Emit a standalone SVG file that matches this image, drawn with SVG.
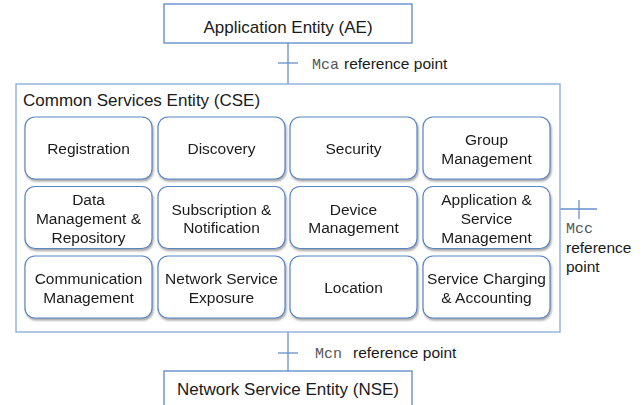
<svg xmlns="http://www.w3.org/2000/svg" width="644" height="405" viewBox="0 0 644 405">
<style>
text{font-family:"Liberation Sans",Arial,sans-serif;fill:#1a1a1a}
.big{font-size:17px}
.t{font-size:15.5px;text-anchor:middle}
.lbl{font-size:15.5px}
.mono{font-family:"Liberation Mono","Courier New",monospace;font-size:15px;fill:#555}
.ent{fill:#fff;stroke:#5b87c7;stroke-width:1.3}
.cse{fill:#fff;stroke:#97b4dd;stroke-width:1.5}
.fn{fill:#fff;stroke:#5a86c4;stroke-width:1.2}
.ln{stroke:#6590cd;stroke-width:1.3;fill:none}
</style>
<defs>
<filter id="sh" x="-10%" y="-10%" width="130%" height="140%">
<feDropShadow dx="1" dy="2" stdDeviation="1.3" flood-color="#555" flood-opacity="0.55"/>
</filter>
</defs>
<g id="connectors">
<line class="ln" x1="288" y1="43" x2="288" y2="84"/>
<line class="ln" x1="278" y1="63" x2="298" y2="63"/>
<line class="ln" x1="560" y1="209" x2="597" y2="209"/>
<line class="ln" x1="579" y1="200" x2="579" y2="219"/>
<line class="ln" x1="288" y1="332" x2="288" y2="371"/>
<line class="ln" x1="278" y1="353" x2="298" y2="353"/>
</g>
<g id="mca-label"><text x="312" y="69"><tspan class="mono">Mca</tspan><tspan class="lbl" x="344">reference point</tspan></text></g>
<g id="mcc-label"><text class="mono" x="566" y="233">Mcc</text><text class="lbl" x="566" y="253">reference</text><text class="lbl" x="566" y="272">point</text></g>
<g id="mcn-label"><text x="315" y="358"><tspan class="mono">Mcn</tspan><tspan class="lbl" x="353">reference point</tspan></text></g>
<g id="ae"><rect class="ent" x="164" y="4" width="248" height="39"/><text class="big" x="288" y="33" text-anchor="middle">Application Entity (AE)</text></g>
<g id="cse"><rect class="cse" x="16" y="84" width="544" height="248"/><text class="big" x="23" y="106">Common Services Entity (CSE)</text></g>
<g id="nse"><rect class="ent" x="164" y="371" width="248" height="40"/><text class="big" x="288" y="395" text-anchor="middle">Network Service Entity (NSE)</text></g>
<g filter="url(#sh)">
<g id="registration"><rect class="fn" x="25" y="117" width="127" height="62" rx="10"/><text class="t" x="88.5" y="154">Registration</text></g>
<g id="discovery"><rect class="fn" x="158" y="117" width="127" height="62" rx="10"/><text class="t" x="221.5" y="154">Discovery</text></g>
<g id="security"><rect class="fn" x="290" y="117" width="127" height="62" rx="10"/><text class="t" x="353.5" y="154">Security</text></g>
<g id="group-management"><rect class="fn" x="423" y="117" width="127" height="62" rx="10"/><text class="t" x="486.5" y="145">Group</text><text class="t" x="486.5" y="164">Management</text></g>
<g id="data-management"><rect class="fn" x="25" y="186.5" width="127" height="62" rx="10"/><text class="t" x="88.5" y="204.5">Data</text><text class="t" x="88.5" y="223.5">Management &amp;</text><text class="t" x="88.5" y="242.5">Repository</text></g>
<g id="subscription"><rect class="fn" x="158" y="186.5" width="127" height="62" rx="10"/><text class="t" x="221.5" y="214.5">Subscription &amp;</text><text class="t" x="221.5" y="233">Notification</text></g>
<g id="device-management"><rect class="fn" x="290" y="186.5" width="127" height="62" rx="10"/><text class="t" x="353.5" y="214.5">Device</text><text class="t" x="353.5" y="233">Management</text></g>
<g id="app-service-management"><rect class="fn" x="423" y="186.5" width="127" height="62" rx="10"/><text class="t" x="486.5" y="204.5">Application &amp;</text><text class="t" x="486.5" y="223.5">Service</text><text class="t" x="486.5" y="242.5">Management</text></g>
<g id="communication-management"><rect class="fn" x="25" y="256" width="127" height="62" rx="10"/><text class="t" x="88.5" y="283.5">Communication</text><text class="t" x="88.5" y="302.5">Management</text></g>
<g id="network-service-exposure"><rect class="fn" x="158" y="256" width="127" height="62" rx="10"/><text class="t" x="221.5" y="283.5">Network Service</text><text class="t" x="221.5" y="302.5">Exposure</text></g>
<g id="location"><rect class="fn" x="290" y="256" width="127" height="62" rx="10"/><text class="t" x="353.5" y="293">Location</text></g>
<g id="service-charging"><rect class="fn" x="423" y="256" width="127" height="62" rx="10"/><text class="t" x="486.5" y="283.5">Service Charging</text><text class="t" x="486.5" y="302.5">&amp; Accounting</text></g>
</g>
</svg>
